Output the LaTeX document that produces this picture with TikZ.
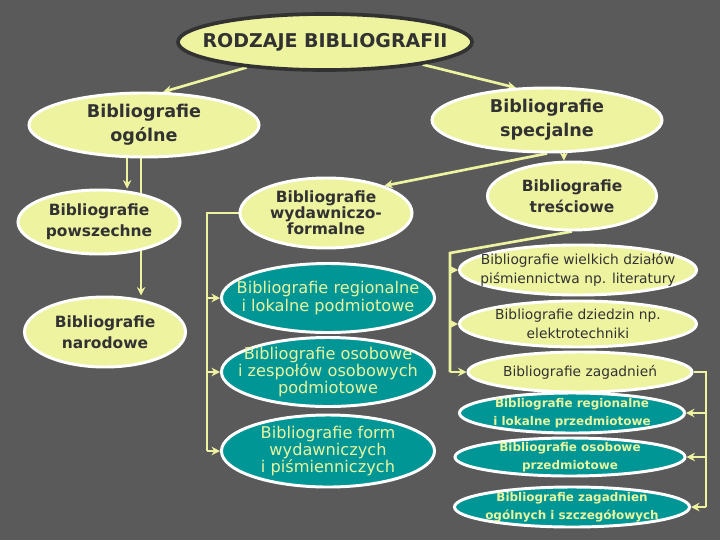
\documentclass[tikz,border=0pt]{standalone}
\usepackage{fontspec}
\setmainfont{DejaVu Sans}
\usepackage{xcolor}
\usepackage{tikz}
\usetikzlibrary{shapes.geometric,arrows.meta}

\definecolor{bggray}{RGB}{90,90,90}
\definecolor{paleyel}{RGB}{238,243,160}
\definecolor{tealfill}{RGB}{0,150,150}
\definecolor{darktxt}{RGB}{50,50,50}
\definecolor{lighttxt}{RGB}{232,245,160}
\definecolor{titleline}{RGB}{50,50,50}

\pgfdeclarelayer{back}
\pgfdeclarelayer{links}
\pgfsetlayers{back,links,main}

\begin{document}
\begin{tikzpicture}[x=0.025cm,y=-0.025cm,
  oval/.style={ellipse,draw=white,line width=2.1pt,inner xsep=-2cm,inner ysep=-1cm,align=center},
  ovalY/.style={oval,fill=paleyel,text=darktxt},
  ovalT/.style={oval,fill=tealfill,text=lighttxt},
  bigbold/.style={font=\bfseries\fontsize{12.5}{17}\selectfont},
  midbold/.style={font=\bfseries\fontsize{11}{15}\selectfont},
  plainL/.style={font=\fontsize{11.5}{12.5}\selectfont},
  plainR/.style={font=\fontsize{9.8}{13.5}\selectfont},
  smallbold/.style={font=\bfseries\fontsize{8.5}{13}\selectfont},
  link/.style={draw=paleyel,line width=1.9pt},
  arr/.style={link,-{Stealth[length=6pt,width=6pt]}}]

\useasboundingbox (0,0) rectangle (720,540);
\begin{pgfonlayer}{back}
\fill[bggray] (0,0) rectangle (720,540);
\end{pgfonlayer}

% title
\node[ovalY,draw=titleline,line width=2.6pt,minimum width=7.35cm,minimum height=1.4cm,
  font=\bfseries\fontsize{13.5}{15}\selectfont] (rodzaje) at (325,42) {RODZAJE BIBLIOGRAFII};

% general branch
\node[ovalY,bigbold,minimum width=5.75cm,minimum height=1.6cm] (ogolne) at (144,125) {Bibliografie\\ogólne};
\node[ovalY,midbold,minimum width=4.05cm,minimum height=1.6cm] (powszechne) at (99,222) {Bibliografie\\powszechne};
\node[ovalY,midbold,minimum width=4.025cm,minimum height=1.75cm] (narodowe) at (105,332) {Bibliografie\\narodowe};

% special branch
\node[ovalY,bigbold,minimum width=5.75cm,minimum height=1.6cm] (specjalne) at (547,120) {Bibliografie\\specjalne};
\node[ovalY,midbold,minimum width=4.225cm,minimum height=1.7cm] (tresciowe) at (572,196) {Bibliografie\\treściowe};
\node[ovalY,font=\bfseries\fontsize{11}{11.5}\selectfont,minimum width=4.3cm,minimum height=1.75cm]
  (wydawnicze) at (326,213) {Bibliografie\\wydawniczo-\\formalne};

% formal subtypes
\node[ovalT,plainL,minimum width=5.325cm,minimum height=1.725cm] (regpodm) at (328,298) {Bibliografie regionalne\\i lokalne podmiotowe};
\node[ovalT,font=\fontsize{11.5}{10}\selectfont,minimum width=5.325cm,minimum height=1.725cm]
  (osopodm) at (328,372) {Bibliografie osobowe\\i zespołów osobowych\\podmiotowe};
\node[ovalT,font=\fontsize{11.5}{10}\selectfont,minimum width=5.325cm,minimum height=1.8cm]
  (form) at (328,451) {Bibliografie form\\wydawniczych\\i piśmienniczych};

% content subtypes
\node[ovalY,plainR,minimum width=5.925cm,minimum height=1.25cm] (wielkich) at (578,270) {Bibliografie wielkich działów\\piśmiennictwa np. literatury};
\node[ovalY,plainR,minimum width=5.925cm,minimum height=1.15cm] (dziedzin) at (578,324) {Bibliografie dziedzin np.\\elektrotechniki};
\node[ovalY,plainR,minimum width=5.6cm,minimum height=1.0cm] (zagadnien) at (580,372) {Bibliografie zagadnień};

% subject subtypes
\node[ovalT,smallbold,minimum width=5.625cm,minimum height=1.0cm] (regprzed) at (572,413) {Bibliografie regionalne\\i lokalne przedmiotowe};
\node[ovalT,smallbold,minimum width=5.75cm,minimum height=0.95cm] (osoprzed) at (570,457) {Bibliografie osobowe\\przedmiotowe};
\node[ovalT,smallbold,minimum width=5.875cm,minimum height=1.0cm] (zagogol) at (572,507) {Bibliografie zagadnien\\ogólnych i szczegółowych};

% connectors
\begin{pgfonlayer}{links}
\draw[arr] (rodzaje.198) -- (ogolne.60);
\draw[arr] (rodzaje.-13) -- (specjalne.134);
\draw[arr] (ogolne.-117) -- (ogolne.-117 |- powszechne.north);
\draw[arr] (ogolne.-95) -- (ogolne.-95 |- narodowe.north);
\draw[arr] (specjalne.-63) -- (specjalne.-63 |- tresciowe.north);
\draw[arr] (specjalne.south) -- (wydawnicze.25);

% left bracket
\coordinate (lbus) at (207,213);
\draw[link] (wydawnicze.west) -- (lbus) -- (lbus |- form.west);
\foreach \n in {regpodm,osopodm,form}
  \draw[arr] (lbus |- \n.west) -- (\n.west);

% middle bracket
\coordinate (tbus) at (450,253);
\draw[link] (tresciowe.south) -- (tbus) -- (tbus |- zagadnien.west);
\foreach \n in {wielkich,dziedzin,zagadnien}
  \draw[arr] (tbus |- \n.west) -- (\n.west);

% right bracket
\coordinate (rbus) at (706,372);
\draw[link] (zagadnien.east) -- (rbus) -- (rbus |- zagogol.east);
\foreach \n in {regprzed,osoprzed,zagogol}
  \draw[arr] (rbus |- \n.east) -- (\n.east);
\end{pgfonlayer}
\end{tikzpicture}
\end{document}
